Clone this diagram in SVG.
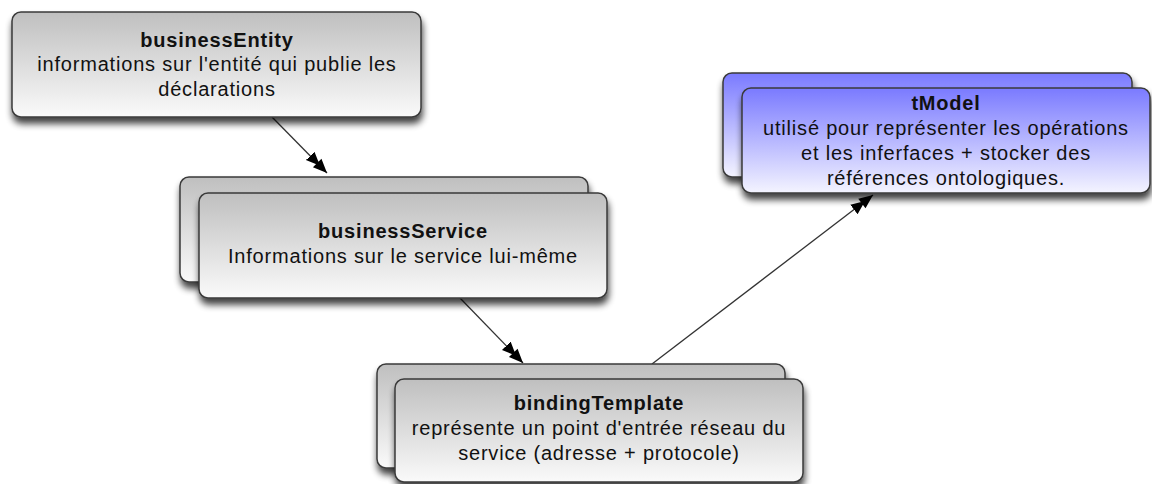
<svg xmlns="http://www.w3.org/2000/svg" width="1152" height="484" viewBox="0 0 1152 484">
<defs>
<linearGradient id="gGray" x1="0" y1="0" x2="0" y2="1">
<stop offset="0" stop-color="#bfbfbf"/>
<stop offset="1" stop-color="#fafafa"/>
</linearGradient>
<linearGradient id="gBlue" x1="0" y1="0" x2="0" y2="1">
<stop offset="0" stop-color="#7a7aff"/>
<stop offset="1" stop-color="#f4f4ff"/>
</linearGradient>
<filter id="sh" x="-10%" y="-20%" width="125%" height="150%">
<feGaussianBlur in="SourceAlpha" stdDeviation="3.5"/>
<feOffset dx="1" dy="6" result="b"/>
<feComponentTransfer><feFuncA type="linear" slope="0.75"/></feComponentTransfer>
<feMerge><feMergeNode/><feMergeNode in="SourceGraphic"/></feMerge>
</filter>
<marker id="dbl" markerUnits="userSpaceOnUse" markerWidth="26" markerHeight="14" refX="24" refY="7" orient="auto" viewBox="0 0 26 14">
<path d="M0,1 L14,7 L0,13 Z M10,1 L24,7 L10,13 Z" fill="#000"/>
</marker>
<style>
.box{stroke:#3a3a3a;stroke-width:1.5;filter:url(#sh)}
.gray{fill:url(#gGray)}
.blue{fill:url(#gBlue)}
text{font-family:"Liberation Sans",Arial,sans-serif;font-size:20px;fill:#111;text-anchor:middle;letter-spacing:0.8px}
.t{font-weight:bold}
.conn{stroke:#333;stroke-width:1.3;fill:none;marker-end:url(#dbl)}
</style>
</defs>
<g id="connectors">
<line class="conn" x1="272" y1="117" x2="327" y2="173"/>
<line class="conn" x1="460" y1="298" x2="523" y2="363"/>
<line class="conn" x1="652" y1="364" x2="873" y2="195"/>
</g>
<g id="businessEntity">
<rect class="box gray" x="12" y="12" width="409" height="105" rx="9"/>
<text class="t" x="217" y="47">businessEntity</text>
<text x="217" y="71">informations sur l'entité qui publie les</text>
<text x="217" y="96">déclarations</text>
</g>
<g id="businessService">
<rect class="box gray" x="180" y="177" width="408" height="105" rx="9"/>
<rect class="box gray" x="199" y="193" width="408" height="105" rx="9"/>
<text class="t" x="403" y="238">businessService</text>
<text x="403" y="263">Informations sur le service lui-même</text>
</g>
<g id="bindingTemplate">
<rect class="box gray" x="377" y="364" width="408" height="104" rx="9"/>
<rect class="box gray" x="395" y="379" width="408" height="103" rx="9"/>
<text class="t" x="599" y="410">bindingTemplate</text>
<text x="599" y="435">représente un point d'entrée réseau du</text>
<text x="599" y="460">service (adresse + protocole)</text>
</g>
<g id="tModel">
<rect class="box blue" x="723" y="73" width="409" height="104" rx="9"/>
<rect class="box blue" x="742" y="88" width="408" height="105" rx="9"/>
<text class="t" x="946" y="110">tModel</text>
<text x="946" y="135">utilisé pour représenter les opérations</text>
<text x="946" y="160">et les inferfaces + stocker des</text>
<text x="946" y="185">références ontologiques.</text>
</g>
</svg>
